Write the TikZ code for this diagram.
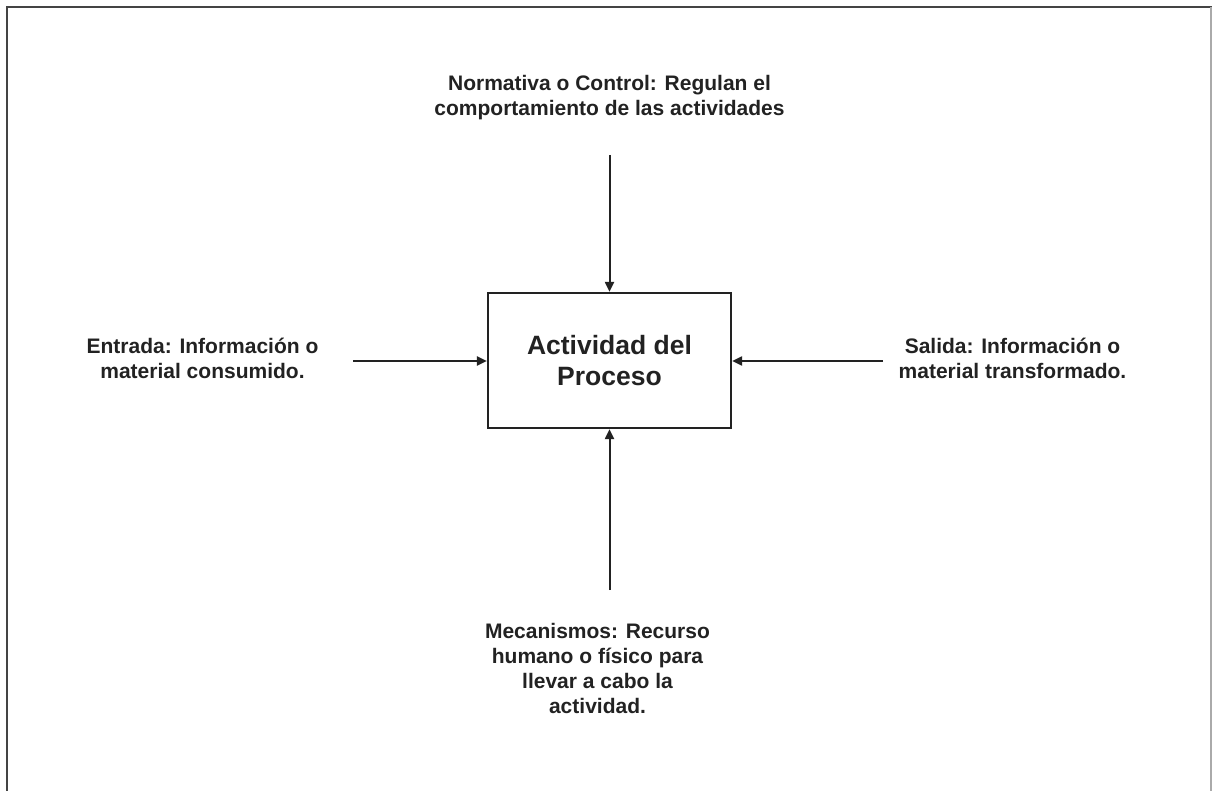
\documentclass[tikz,border=0pt]{standalone}
\usepackage{fontspec}
\setmainfont{Liberation Sans}
\usetikzlibrary{arrows.meta}
\definecolor{ink}{HTML}{222222}
\definecolor{framedark}{HTML}{444444}
\definecolor{framelight}{HTML}{AAAAAA}
\begin{document}
\begin{tikzpicture}[x=1pt,y=-1pt,
  label/.style={font=\bfseries\fontsize{21}{25}\selectfont, text=ink, align=center, inner sep=0pt},
  activity/.style={draw=ink, line width=2.2pt, minimum width=243pt, minimum height=135pt,
                   font=\bfseries\fontsize{26.5}{31}\selectfont, text=ink, align=center, inner sep=0pt},
  flow/.style={draw=ink, line width=2pt, -{Triangle[length=10pt,width=9pt]}}]
  % page extent and frame
  \useasboundingbox (0,0) rectangle (1212,791);
  \draw[framedark, line width=2.4pt] (7,791) -- (7,7) -- (1212,7);
  \draw[framelight, line width=1.4pt] (1211,7) -- (1211,791);

  % central activity
  \node[activity] (act) at (609.5,360.5) {Actividad del\\Proceso};

  % ICOM labels
  \node[label] (ctrl) at (609.5,98) {Normativa o Control: Regulan el\\comportamiento de las actividades};
  \node[label] (inp)  at (202.5,358) {Entrada: Información o\\material consumido.};
  \node[label] (outp) at (1012.5,358) {Salida: Información o\\material transformado.};
  \node[label] (mech) at (597.5,668) {Mecanismos: Recurso\\humano o físico para\\llevar a cabo la\\actividad.};

  % connector ends
  \coordinate (ctrlend) at (609.5,155);
  \coordinate (inpend)  at (353,361);
  \coordinate (outpend) at (883,361);
  \coordinate (mechend) at (609.5,590);

  \draw[flow] (ctrlend) -- (act.north);
  \draw[flow] (inpend) -- (act.west |- inpend);
  \draw[flow] (outpend) -- (act.east |- outpend);
  \draw[flow] (mechend) -- (act.south);
\end{tikzpicture}
\end{document}
